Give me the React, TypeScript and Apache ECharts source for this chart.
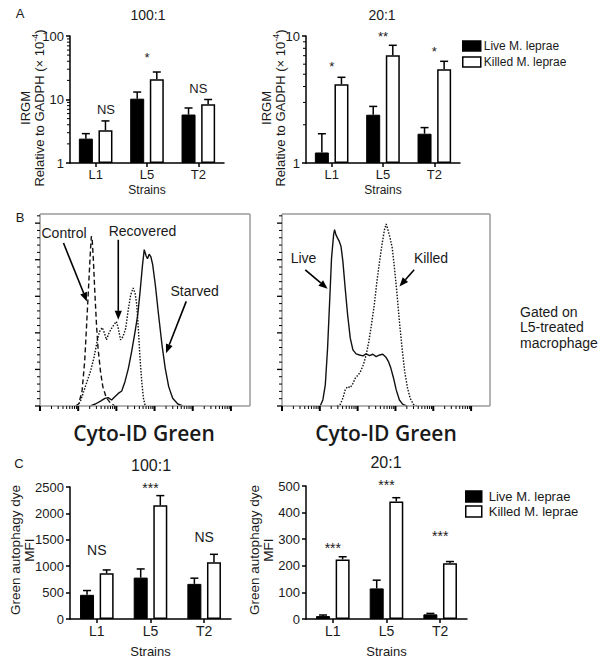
import React, { useEffect, useRef } from "react";
import * as echarts from "echarts";

// ---------- DATA ----------
const strains = ["L1", "L5", "T2"];
const seriesNames = ["Live M. leprae", "Killed M. leprae"];

// Panel A (IRGM relative to GADPH, x10^-4), 100:1
const a100Live = [2.42, 10.3, 5.8];
const a100LiveSem = [0.48, 2.8, 1.55];
const a100Killed = [3.27, 20.8, 8.4];
const a100KilledSem = [1.33, 6.3, 1.6];
const a100Sig = ["NS", "*", "NS"];
const a100SigY = [7.0, 46, 15];
const a100SigShift = [0.2, 0, 0];
const a100Ticks = [1, 10, 100];
const a100MinorTicks = [2, 3, 4, 5, 6, 7, 8, 9, 20, 30, 40, 50, 60, 70, 80, 90];

// Panel A, 20:1
const a20Live = [1.21, 2.4, 1.7];
const a20LiveSem = [0.49, 0.39, 0.2];
const a20Killed = [4.17, 7.05, 5.47];
const a20KilledSem = [0.56, 1.4, 0.85];
const a20Sig = ["*", "**", "*"];
const a20SigY = [5.8, 10.0, 7.5];
const a20SigShift = [0, 0, 0];
const a20Ticks = [1, 10];
const a20MinorTicks = [2, 3, 4, 5, 6, 7, 8, 9];

// Panel B histograms (Cyto-ID Green), x in channel units, y in % of max scale
const controlCurve = [[18.5,0],[20.2,1.1],[22.0,7.9],[23.4,24.3],[24.6,48.0],[25.5,66.3],[26.4,84.5],[26.9,92.8],[27.3,91.8],[28.0,79.1],[28.7,62.6],[29.6,44.4],[30.4,31.6],[31.7,18.8],[32.9,10.6],[34.7,4.6],[37.0,1.5],[39.2,0]];
const recoveredCurve = [[19.4,0],[21.1,2.4],[22.9,7.9],[24.6,13.3],[26.4,18.8],[28.2,26.1],[29.9,35.2],[31.2,40.7],[32.6,42.9],[33.8,39.8],[34.8,36.2],[36.1,39.8],[37.5,42.5],[38.7,44.4],[40.0,46.2],[41.0,42.5],[42.2,36.2],[43.5,38.0],[44.9,42.5],[46.1,51.7],[47.5,60.8],[48.8,64.5],[49.8,61.7],[50.7,55.3],[51.6,40.7],[52.4,26.1],[53.3,13.3],[54.2,4.2],[55.1,0]];
const starvedCurve = [[26.4,0],[29.0,1.1],[31.7,2.7],[34.0,4.2],[35.7,4.6],[37.5,3.3],[39.2,5.1],[41.0,6.9],[42.8,8.2],[44.5,13.3],[46.3,20.6],[48.0,29.8],[49.8,40.7],[51.2,49.9],[52.6,64.5],[53.7,77.2],[54.6,85.5],[55.6,82.0],[56.3,80.5],[57.2,83.0],[58.1,81.5],[59.0,77.5],[60.4,66.3],[62.1,49.9],[63.9,33.4],[65.6,20.6],[67.4,10.6],[69.5,4.2],[72.2,1.1],[74.8,0]];
const liveCurve = [[20.2,0],[21.6,3.3],[22.9,11.5],[24.1,31.6],[25.2,57.2],[26.2,80.9],[27.3,93.7],[27.8,96.4],[28.5,93.7],[29.4,91.8],[30.3,90.0],[31.2,87.3],[32.2,79.1],[33.4,64.5],[34.7,49.9],[36.1,37.1],[37.5,30.7],[39.2,28.5],[41.0,27.9],[42.8,27.4],[44.5,28.5],[46.3,27.6],[48.0,28.3],[49.8,27.0],[51.6,27.9],[53.3,28.3],[55.1,26.5],[56.3,24.3],[57.6,20.6],[59.0,15.2],[60.4,8.8],[62.1,3.3],[63.9,0.9],[66.0,0]];
const killedCurve = [[29.0,0],[30.8,0.9],[32.2,4.2],[33.4,8.8],[34.7,10.6],[36.1,10.0],[37.5,12.4],[38.9,15.5],[40.3,17.0],[41.7,19.2],[43.1,22.8],[44.5,27.9],[45.9,35.2],[47.3,44.4],[48.8,55.3],[50.2,68.1],[51.6,79.1],[53.0,89.1],[54.2,96.4],[55.1,99.5],[56.0,96.4],[57.2,91.8],[58.3,86.4],[59.3,77.2],[60.7,62.6],[62.1,46.2],[63.5,31.6],[64.9,18.8],[66.4,9.7],[67.8,4.2],[69.5,0.9],[71.3,0]];

const bLeftLabels = ["Control", "Recovered", "Starved"];
const bLeftLabelPos = [[12.6, 94.6], [53.7, 95.5], [81.0, 63.0]];
const bLeftArrows = [[12.3, 89.1, 24.6, 57.2], [41.0, 90.9, 41.0, 47.1], [76.6, 57.2, 66.0, 28.9]];
const bRightLabels = ["Live", "Killed"];
const bRightLabelPos = [[11.4, 80.9], [78.8, 80.9]];
const bRightArrows = [[12.3, 74.5, 24.1, 64.1], [69.9, 74.5, 62.1, 65.4]];
const histXMajor = [0, 20, 40, 60, 80, 100];
const histYMajor = [0, 20, 40, 60, 80, 100];
const histFrame = [[0, 0, 110, 0], [0, 105, 110, 105], [0, 0, 0, 105], [110, 0, 110, 105]];

// Panel C (Green autophagy dye MFI), 100:1
const c100Live = [458, 784, 665];
const c100LiveSem = [81, 164, 108];
const c100Killed = [867, 2155, 1074];
const c100KilledSem = [62, 182, 151];
const c100Sig = ["NS", "***", "NS"];
const c100SigY = [1306, 2490, 1546];
const c100SigShift = [0, 0, 0];

// Panel C, 20:1
const c20Live = [11, 115, 17.5];
const c20LiveSem = [4, 31, 3.5];
const c20Killed = [224, 442, 210];
const c20KilledSem = [10, 14, 6];
const c20Sig = ["***", "***", "***"];
const c20SigY = [266, 503, 311];
const c20SigShift = [0, 0, 0];

// ---------- STYLE / LAYOUT ----------
const FONT = "'Liberation Sans', Arial, Helvetica, sans-serif";
const INK = "#1a1a1a";
const FRAME = "#9a9a9a";
const BAR_W = 14;
const BAR_GAP = 0.4;
const OFFSET = (BAR_W + BAR_W * BAR_GAP) / 2;
const CAP = 4;

const GRID_BASE = { containLabel: false, outerBoundsMode: "none" };
const GRIDS = [
  { left: 70, top: 36, width: 154, height: 127 },
  { left: 306, top: 36, width: 154, height: 127 },
  { left: 40, top: 214, width: 210, height: 192 },
  { left: 282, top: 214, width: 208, height: 192 },
  { left: 70, top: 487, width: 161, height: 132 },
  { left: 306, top: 486, width: 161, height: 133 },
];

function barAxisX(gridIndex: number, labelSize: number, nameSize: number, nameGap: number) {
  return {
    type: "category",
    gridIndex,
    data: strains,
    boundaryGap: true,
    axisLine: { show: true, lineStyle: { color: "#000", width: 1.5 } },
    axisTick: { show: true, alignWithLabel: true, length: 4, lineStyle: { color: "#000", width: 1.5 } },
    axisLabel: { fontSize: labelSize, color: INK, fontFamily: FONT, margin: 5 },
    name: "Strains",
    nameLocation: "middle",
    nameGap,
    nameTextStyle: { fontSize: nameSize, color: INK, fontFamily: FONT },
    splitLine: { show: false },
  };
}

function barAxisY(gridIndex: number, extra: any) {
  return {
    gridIndex,
    axisLine: { show: true, lineStyle: { color: "#000", width: 1.5 } },
    axisTick: { show: true, length: 4, lineStyle: { color: "#000", width: 1.5 } },
    axisLabel: { fontSize: 13, color: INK, fontFamily: FONT, margin: 6, formatter: (v: number) => String(v) },
    splitLine: { show: false },
    ...extra,
  };
}

function barSeries(xi: number, live: number[], killed: number[]) {
  return [
    {
      type: "bar", name: seriesNames[0], xAxisIndex: xi, yAxisIndex: xi, data: live,
      barWidth: BAR_W, barGap: `${BAR_GAP * 100}%`,
      itemStyle: { color: "#000", borderColor: "#000", borderWidth: 1 },
      z: 3,
    },
    {
      type: "bar", name: seriesNames[1], xAxisIndex: xi, yAxisIndex: xi, data: killed,
      barWidth: BAR_W, barGap: `${BAR_GAP * 100}%`,
      itemStyle: { color: "#fff", borderColor: "#000", borderWidth: 1.5 },
      z: 3,
    },
  ];
}

function errorSeries(xi: number, means: number[], sems: number[], side: number) {
  return {
    type: "custom", xAxisIndex: xi, yAxisIndex: xi, z: 4, silent: true,
    data: means.map((m, i) => [i, m, m + sems[i]]),
    renderItem: (params: any, api: any) => {
      const base = api.coord([api.value(0), api.value(1)]);
      const top = api.coord([api.value(0), api.value(2)]);
      const x = base[0] + side * OFFSET;
      const st = { stroke: "#000", lineWidth: 1.5 };
      return {
        type: "group",
        children: [
          { type: "line", shape: { x1: x, y1: base[1], x2: x, y2: top[1] }, style: st },
          { type: "line", shape: { x1: x - CAP, y1: top[1], x2: x + CAP, y2: top[1] }, style: st },
        ],
      };
    },
  };
}

function sigSeries(xi: number, labels: string[], ys: number[], shifts: number[], size: number) {
  return {
    type: "custom", xAxisIndex: xi, yAxisIndex: xi, z: 5, silent: true,
    data: labels.map((_, i) => [i, ys[i], shifts[i]]),
    renderItem: (params: any, api: any) => {
      const p = api.coord([api.value(0), api.value(1)]);
      const band = params.coordSys.width / strains.length;
      return {
        type: "text",
        x: p[0] + api.value(2) * band,
        y: p[1],
        style: {
          text: labels[params.dataIndex],
          fontSize: size, fontFamily: FONT, fill: INK,
          align: "center", verticalAlign: "middle",
          textAlign: "center", textVerticalAlign: "middle",
        },
      };
    },
  };
}

function minorTickSeries(xi: number, vals: number[]) {
  return {
    type: "custom", xAxisIndex: xi, yAxisIndex: xi, z: 5, silent: true,
    data: vals.map((v) => [0, v]),
    renderItem: (params: any, api: any) => {
      const p = api.coord([0, api.value(1)]);
      const x0 = params.coordSys.x;
      return {
        type: "line",
        shape: { x1: x0 - 3, y1: p[1], x2: x0, y2: p[1] },
        style: { stroke: "#000", lineWidth: 1 },
      };
    },
  };
}

// Histogram frame: each edge is a data item drawn through the panel's scales
function frameSeries(xi: number) {
  return {
    type: "custom", xAxisIndex: xi, yAxisIndex: xi, z: 6, silent: true,
    data: histFrame,
    renderItem: (params: any, api: any) => {
      const a = api.coord([api.value(0), api.value(1)]);
      const b = api.coord([api.value(2), api.value(3)]);
      return {
        type: "group",
        children: [
          { type: "line", shape: { x1: a[0], y1: a[1], x2: b[0], y2: b[1] }, style: { stroke: FRAME, lineWidth: 1.5 } },
        ],
      };
    },
  };
}

// Tick marks: one data item per tick [x, y, isXaxis, length, width]
function tickData() {
  const out: number[][] = [];
  histXMajor.forEach((v, i) => {
    out.push([v, 1, 1, 5, 2]);
    if (i < histXMajor.length - 1) {
      const next = histXMajor[i + 1];
      for (let k = 2; k <= 9; k++) out.push([v + (next - v) * Math.log10(k), 1, 1, 3, 1]);
    }
  });
  histYMajor.forEach((v) => {
    out.push([1, v, 0, 5, 1.3]);
    for (let k = 1; k < 5; k++) {
      const mv = v + 4 * k;
      if (mv <= 105) out.push([1, mv, 0, 3, 1]);
    }
  });
  return out;
}

function tickSeries(xi: number) {
  return {
    type: "custom", xAxisIndex: xi, yAxisIndex: xi, z: 6, silent: true,
    data: tickData(),
    renderItem: (params: any, api: any) => {
      const cs = params.coordSys;
      const isX = api.value(2) === 1;
      const len = api.value(3);
      const w = api.value(4);
      let shape;
      if (isX) {
        const px = api.coord([api.value(0), 0])[0];
        const y1 = cs.y + cs.height;
        shape = { x1: px, y1: y1, x2: px, y2: y1 + len };
      } else {
        const py = api.coord([0, api.value(1)])[1];
        shape = { x1: cs.x - len, y1: py, x2: cs.x, y2: py };
      }
      return { type: "line", shape, style: { stroke: "#000", lineWidth: w } };
    },
  };
}

function histLine(xi: number, data: number[][], dash: any) {
  return {
    type: "line", xAxisIndex: xi, yAxisIndex: xi, data, showSymbol: false, symbol: "none",
    smooth: false, silent: true,
    lineStyle: { color: "#111", width: 1.4, type: dash },
    z: 3,
  };
}

function arrowSeries(xi: number, arrows: number[][]) {
  return {
    type: "custom", xAxisIndex: xi, yAxisIndex: xi, z: 6, silent: true,
    data: arrows,
    renderItem: (params: any, api: any) => {
      const a = api.coord([api.value(0), api.value(1)]);
      const b = api.coord([api.value(2), api.value(3)]);
      const ang = Math.atan2(b[1] - a[1], b[0] - a[0]);
      const L = 9, W = 3.6;
      const bx = b[0] - L * Math.cos(ang), by = b[1] - L * Math.sin(ang);
      const nx = -Math.sin(ang) * W, ny = Math.cos(ang) * W;
      return {
        type: "group",
        children: [
          { type: "line", shape: { x1: a[0], y1: a[1], x2: bx, y2: by }, style: { stroke: "#000", lineWidth: 1.6 } },
          { type: "polygon", shape: { points: [[b[0], b[1]], [bx + nx, by + ny], [bx - nx, by - ny]] }, style: { fill: "#000" } },
        ],
      };
    },
  };
}

function histLabelSeries(xi: number, labels: string[], pos: number[][]) {
  return {
    type: "custom", xAxisIndex: xi, yAxisIndex: xi, z: 6, silent: true,
    data: pos,
    renderItem: (params: any, api: any) => {
      const p = api.coord([api.value(0), api.value(1)]);
      return {
        type: "text", x: p[0], y: p[1],
        style: {
          text: labels[params.dataIndex], fontSize: 14, fontFamily: FONT, fill: INK,
          align: "center", verticalAlign: "middle", textAlign: "center", textVerticalAlign: "middle",
        },
      };
    },
  };
}

function histX(gridIndex: number) {
  return {
    type: "value", gridIndex, min: 0, max: 110, interval: 20,
    axisLine: { show: false }, axisTick: { show: false }, axisLabel: { show: false }, splitLine: { show: false },
  };
}

function histY(gridIndex: number) {
  return {
    type: "value", gridIndex, min: 0, max: 105, interval: 20,
    axisLine: { show: false }, axisTick: { show: false }, axisLabel: { show: false }, splitLine: { show: false },
  };
}

function txt(text: string, x: number, y: number, size: number, extra: any = {}) {
  return {
    type: "text", x, y, silent: true,
    style: {
      text, fontSize: size, fontFamily: FONT, fill: INK,
      align: "center", verticalAlign: "middle", textAlign: "center", textVerticalAlign: "middle",
      ...extra,
    },
  };
}

function buildOption() {
  const grids = GRIDS.map((g) => ({ ...GRID_BASE, ...g }));

  const xAxis = [
    barAxisX(0, 13, 12, 21),
    barAxisX(1, 13, 12, 21),
    histX(2),
    histX(3),
    barAxisX(4, 14, 13, 26),
    barAxisX(5, 14, 13, 26),
  ];

  const yAxis = [
    barAxisY(0, { type: "log", logBase: 10, min: a100Ticks[0], max: a100Ticks[a100Ticks.length - 1] }),
    barAxisY(1, { type: "log", logBase: 10, min: a20Ticks[0], max: a20Ticks[a20Ticks.length - 1] }),
    histY(2),
    histY(3),
    barAxisY(4, { type: "value", min: 0, max: 2500, interval: 500 }),
    barAxisY(5, { type: "value", min: 0, max: 500, interval: 100 }),
  ];

  const series: any[] = [
    ...barSeries(0, a100Live, a100Killed),
    errorSeries(0, a100Live, a100LiveSem, -1),
    errorSeries(0, a100Killed, a100KilledSem, 1),
    sigSeries(0, a100Sig, a100SigY, a100SigShift, 13),
    minorTickSeries(0, a100MinorTicks),

    ...barSeries(1, a20Live, a20Killed),
    errorSeries(1, a20Live, a20LiveSem, -1),
    errorSeries(1, a20Killed, a20KilledSem, 1),
    sigSeries(1, a20Sig, a20SigY, a20SigShift, 13),
    minorTickSeries(1, a20MinorTicks),

    frameSeries(2),
    tickSeries(2),
    histLine(2, controlCurve, [5, 3]),
    histLine(2, recoveredCurve, [1.5, 1.5]),
    histLine(2, starvedCurve, "solid"),
    arrowSeries(2, bLeftArrows),
    histLabelSeries(2, bLeftLabels, bLeftLabelPos),

    frameSeries(3),
    tickSeries(3),
    histLine(3, liveCurve, "solid"),
    histLine(3, killedCurve, [1.5, 1.5]),
    arrowSeries(3, bRightArrows),
    histLabelSeries(3, bRightLabels, bRightLabelPos),

    ...barSeries(4, c100Live, c100Killed),
    errorSeries(4, c100Live, c100LiveSem, -1),
    errorSeries(4, c100Killed, c100KilledSem, 1),
    sigSeries(4, c100Sig, c100SigY, c100SigShift, 14),

    ...barSeries(5, c20Live, c20Killed),
    errorSeries(5, c20Live, c20LiveSem, -1),
    errorSeries(5, c20Killed, c20KilledSem, 1),
    sigSeries(5, c20Sig, c20SigY, c20SigShift, 14),
  ];

  const legendData = [
    { name: seriesNames[0], itemStyle: { color: "#000", borderColor: "#000", borderWidth: 1.5 } },
    { name: seriesNames[1], itemStyle: { color: "#fff", borderColor: "#000", borderWidth: 1.5 } },
  ];

  const legend = [
    {
      left: 462, top: 40, padding: 0, orient: "vertical", icon: "rect", itemWidth: 18, itemHeight: 10, itemGap: 4,
      selectedMode: false, data: legendData,
      textStyle: { fontSize: 12, color: INK, fontFamily: FONT, padding: [0, 0, 0, -2] },
    },
    {
      left: 465, top: 490, padding: 0, orient: "vertical", icon: "rect", itemWidth: 16, itemHeight: 11, itemGap: 2,
      selectedMode: false, data: legendData,
      textStyle: { fontSize: 13, color: INK, fontFamily: FONT, padding: [0, 0, 0, 2] },
    },
  ];

  const supRich = { sup: { fontSize: 9, fontFamily: FONT, fill: INK, padding: [0, 0, 8, 0] } };

  const graphic = [
    txt("A", 20, 13, 13),
    txt("B", 20, 217, 13),
    txt("C", 19, 463, 13),
    txt("100:1", 148, 15, 14),
    txt("20:1", 382, 15, 14),
    txt("100:1", 151, 465, 16),
    txt("20:1", 386, 462, 16),
    {
      type: "text", x: 32, y: 108, rotation: Math.PI / 2, silent: true,
      style: {
        text: "IRGM\nRelative to GADPH (× 10{sup|-4})", fontSize: 13, fontFamily: FONT, fill: INK,
        lineHeight: 14, align: "center", verticalAlign: "middle", textAlign: "center", textVerticalAlign: "middle",
        rich: supRich,
      },
    },
    {
      type: "text", x: 273, y: 108, rotation: Math.PI / 2, silent: true,
      style: {
        text: "IRGM\nRelative to GADPH (× 10{sup|-4})", fontSize: 13, fontFamily: FONT, fill: INK,
        lineHeight: 14, align: "center", verticalAlign: "middle", textAlign: "center", textVerticalAlign: "middle",
        rich: supRich,
      },
    },
    {
      type: "text", x: 22, y: 550, rotation: Math.PI / 2, silent: true,
      style: {
        text: "Green autophagy dye\nMFI", fontSize: 13.5, fontFamily: FONT, fill: INK,
        lineHeight: 14, align: "center", verticalAlign: "middle", textAlign: "center", textVerticalAlign: "middle",
      },
    },
    {
      type: "text", x: 261, y: 550, rotation: Math.PI / 2, silent: true,
      style: {
        text: "Green autophagy dye\nMFI", fontSize: 13.5, fontFamily: FONT, fill: INK,
        lineHeight: 14, align: "center", verticalAlign: "middle", textAlign: "center", textVerticalAlign: "middle",
      },
    },
    txt("Cyto-ID Green", 144, 433, 21, { fontFamily: "'Open Sans', sans-serif", fontWeight: 600 }),
    txt("Cyto-ID Green", 386, 433, 21, { fontFamily: "'Open Sans', sans-serif", fontWeight: 600 }),
    {
      type: "text", x: 520, y: 327, silent: true,
      style: {
        text: "Gated on\nL5-treated\nmacrophage", fontSize: 14, fontFamily: FONT, fill: INK, lineHeight: 15.5,
        align: "left", verticalAlign: "middle", textAlign: "left", textVerticalAlign: "middle",
      },
    },
  ];

  return {
    animation: false,
    backgroundColor: "#fff",
    grid: grids,
    xAxis,
    yAxis,
    series,
    legend,
    graphic,
  };
}

export default function App() {
  const ref = useRef<HTMLDivElement>(null);
  useEffect(() => {
    if (!ref.current) return;
    const chart = echarts.init(ref.current, null, { renderer: "svg" });
    chart.setOption(buildOption() as any);
    return () => chart.dispose();
  }, []);
  return (
    <div
      ref={ref}
      style={{ position: "absolute", left: 0, top: 0, width: 602, height: 661, background: "#fff" }}
    />
  );
}
